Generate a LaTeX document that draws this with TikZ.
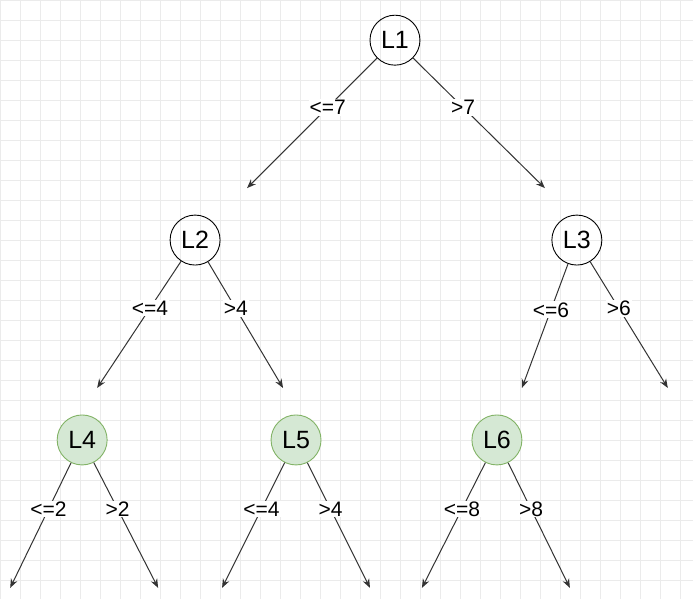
\documentclass[tikz,border=0pt]{standalone}
\usepackage{fontspec}
\setmainfont{Liberation Sans}
\usetikzlibrary{arrows.meta}
\definecolor{leafgreen}{HTML}{D5E8D4}
\definecolor{leafline}{HTML}{82B366}

\begin{document}
\begin{tikzpicture}[x=1pt, y=-1pt,
    level/.style={circle, draw, line width=0.9pt, minimum size=50pt, inner sep=0pt, font=\fontsize{25}{25}\selectfont},
    leaf/.style={level, fill=leafgreen, draw=leafline},
    branch/.style={draw=black!80, line width=1pt, -{Stealth[length=9pt,width=7pt]}},
    cond/.style={fill=white, inner sep=1pt, font=\fontsize{21}{21}\selectfont}]
    % Background grid
    \fill[white] (0,0) rectangle (693,599);
    \draw[black!8, step=20pt] (0,0) grid (693,599);
    \useasboundingbox (0,0) rectangle (693,599);

    % Split nodes
    \node[level] (L1) at (395,40) {L1};
    \node[level] (L2) at (195,240) {L2};
    \node[level] (L3) at (577,240) {L3};

    % Leaf nodes
    \node[leaf] (L4) at (82,440) {L4};
    \node[leaf] (L5) at (296,440) {L5};
    \node[leaf] (L6) at (497,440) {L6};

    % Free ends
    \coordinate (L3a) at (522,388);
    \coordinate (L3b) at (668,388);
    \coordinate (L4a) at (10,588);
    \coordinate (L4b) at (158,588);
    \coordinate (L5a) at (222,588);
    \coordinate (L5b) at (370,588);
    \coordinate (L6a) at (422,588);
    \coordinate (L6b) at (570,588);
    \coordinate (L2t) at (247,188);
    \coordinate (L3t) at (545,188);
    \coordinate (L4t) at (97,388);
    \coordinate (L5t) at (283,388);

    % Branches
    \draw[branch] (L1) -- node[cond, pos=0.38] {<=7} (L2t);
    \draw[branch] (L1) -- node[cond, pos=0.38] {>7} (L3t);
    \draw[branch] (L2) -- node[cond, pos=0.37] {<=4} (L4t);
    \draw[branch] (L2) -- node[cond, pos=0.37] {>4} (L5t);
    \draw[branch] (L3) -- node[cond, pos=0.37] {<=6} (L3a);
    \draw[branch] (L3) -- node[cond, pos=0.37] {>6} (L3b);
    \draw[branch] (L4) -- node[cond, pos=0.37] {<=2} (L4a);
    \draw[branch] (L4) -- node[cond, pos=0.37] {>2} (L4b);
    \draw[branch] (L5) -- node[cond, pos=0.37] {<=4} (L5a);
    \draw[branch] (L5) -- node[cond, pos=0.37] {>4} (L5b);
    \draw[branch] (L6) -- node[cond, pos=0.37] {<=8} (L6a);
    \draw[branch] (L6) -- node[cond, pos=0.37] {>8} (L6b);
\end{tikzpicture}
\end{document}
